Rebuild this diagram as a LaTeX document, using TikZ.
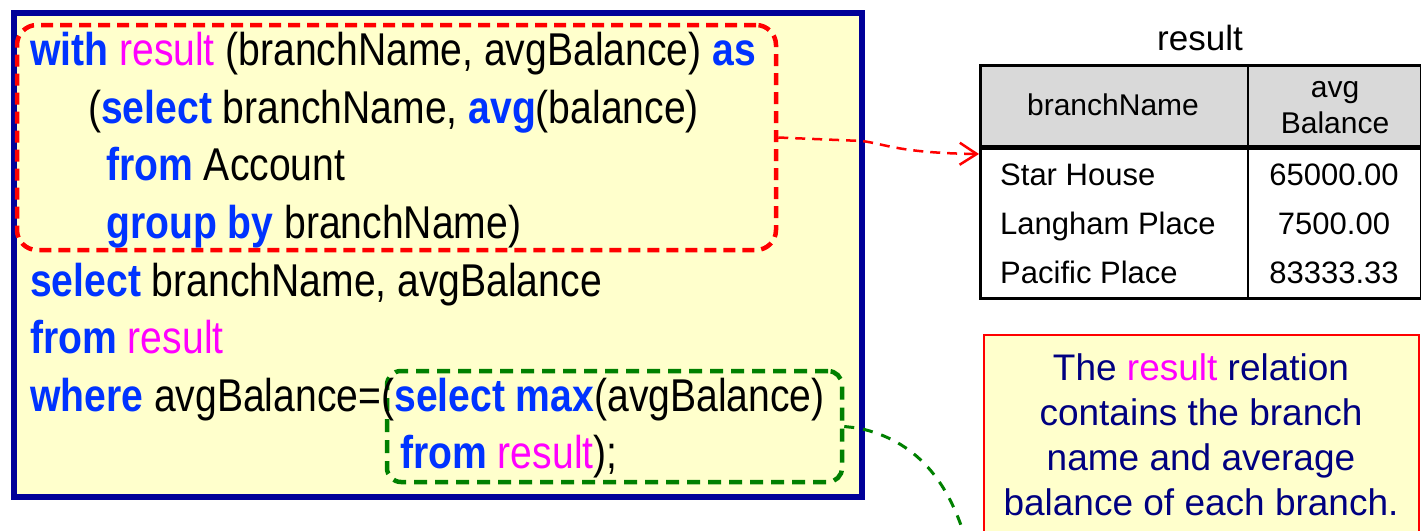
\documentclass[tikz,border=0pt]{standalone}
\usepackage{fontspec}
\setmainfont{Liberation Sans}
\newfontfamily\codefont{Liberation Sans}[FakeStretch=0.85]
\usetikzlibrary{arrows.meta}

\definecolor{kwblue}{RGB}{0,51,255}
\definecolor{relmag}{RGB}{255,0,255}
\definecolor{framenavy}{RGB}{0,0,153}
\definecolor{notenavy}{RGB}{0,0,128}
\definecolor{paleyellow}{RGB}{255,255,204}
\definecolor{headgray}{RGB}{217,217,217}
\definecolor{boxgreen}{RGB}{0,128,0}

\newcommand\sqlkw[1]{{\bfseries\color{kwblue}#1}}
\newcommand\relname[1]{{\color{relmag}#1}}

\tikzset{
  codeline/.style={anchor=base west, inner sep=0pt, font=\codefont\fontsize{46}{57.5}\selectfont},
  cell/.style={inner sep=0pt, font=\fontsize{31}{37}\selectfont},
  headcell/.style={inner sep=0pt, anchor=base, font=\fontsize{30}{36}\selectfont},
  noteline/.style={inner sep=0pt, anchor=base, text=notenavy, font=\fontsize{37}{45}\selectfont},
  hilite/.style={draw, line width=4.5pt, rounded corners=20pt, inner sep=0pt, dash pattern=on 12pt off 7pt},
  link/.style={dashed, line width=2.5pt}
}

\begin{document}
\begin{tikzpicture}[x=1pt, y=-1pt]
  \useasboundingbox (0,0) rectangle (1421,530);
  \clip (0,0) rectangle (1421,530);

  % code panel
  \node[draw=framenavy, fill=paleyellow, line width=6pt, inner sep=0pt,
        minimum width=848pt, minimum height=484pt, anchor=north west] (panel) at (10.5,9.5) {};

  % highlighted sub-queries
  \node[hilite, draw=red, minimum width=759pt, minimum height=225pt] (withbox) at (396.5,137.5) {};
  \node[hilite, draw=boxgreen, minimum width=455pt, minimum height=111pt, rounded corners=14pt,
        dash pattern=on 13pt off 8pt] (maxbox) at (614.5,426.5) {};

  % SQL text
  \node[codeline] (l1) at (30,65) {\sqlkw{with} \relname{result} (branchName, avgBalance) \sqlkw{as}};
  \node[codeline] (l2) at (88,123) {(\sqlkw{select} branchName, \sqlkw{avg}(balance)};
  \node[codeline] (l3) at (106,180) {\sqlkw{from} Account};
  \node[codeline] (l4) at (106,238) {\sqlkw{group by} branchName)};
  \node[codeline] (l5) at (30,296) {\sqlkw{select} branchName, avgBalance};
  \node[codeline] (l6) at (30,353) {\sqlkw{from} \relname{result}};
  \node[codeline] (l7) at (30,411) {\sqlkw{where} avgBalance=(\sqlkw{select max}(avgBalance)};
  \node[codeline] (l8) at (400,468) {\sqlkw{from} \relname{result});};

  % result relation table
  \node[inner sep=0pt, anchor=base, font=\fontsize{35}{42}\selectfont] (title) at (1200,50) {result};
  \fill[headgray] (979,64) rectangle (1420,147);
  \node[draw, line width=2.5pt, inner sep=0pt, minimum width=441pt, minimum height=233pt,
        anchor=north west] (tab) at (979,64) {};
  \draw[line width=5pt] (979,147.5) -- (1420,147.5);
  \draw[line width=2.5pt] (1248,64) -- (1248,297);

  \node[headcell] (h1) at (1113,115) {branchName};
  \node[headcell] (h2a) at (1335,97) {avg};
  \node[headcell] (h2b) at (1335,133) {Balance};

  \node[cell, anchor=base west] (r1a) at (1000,185) {Star House};
  \node[cell, anchor=base west] (r2a) at (1000,234) {Langham Place};
  \node[cell, anchor=base west] (r3a) at (1000,283) {Pacific Place};
  \node[cell, anchor=base] (r1b) at (1334,185) {65000.00};
  \node[cell, anchor=base] (r2b) at (1334,234) {7500.00};
  \node[cell, anchor=base] (r3b) at (1334,283) {83333.33};

  % explanatory note
  \node[draw=red, fill=paleyellow, line width=2pt, inner sep=0pt, minimum width=435pt,
        minimum height=240pt, anchor=north west] (note) at (983,334) {};
  \node[noteline] (n1) at (1201,380) {The \relname{result} relation};
  \node[noteline] (n2) at (1201,425) {contains the branch};
  \node[noteline] (n3) at (1201,470) {name and average};
  \node[noteline] (n4) at (1201,515) {balance of each branch.};

  % connectors
  \coordinate (tabin) at (979,154);
  \coordinate (greenend) at (968,548);
  \draw[link, red, dash pattern=on 10pt off 7pt,
        -{Straight Barb[length=17pt, width=22pt, line width=2.5pt]}]
    (withbox.east) -- (862,141) .. controls (885,144) and (900,153) .. (tabin);
  \draw[link, boxgreen, line width=3pt, dash pattern=on 10pt off 9pt]
    (maxbox.east) -- (858,428) .. controls (915,440) and (950,480) .. (greenend);
\end{tikzpicture}
\end{document}
